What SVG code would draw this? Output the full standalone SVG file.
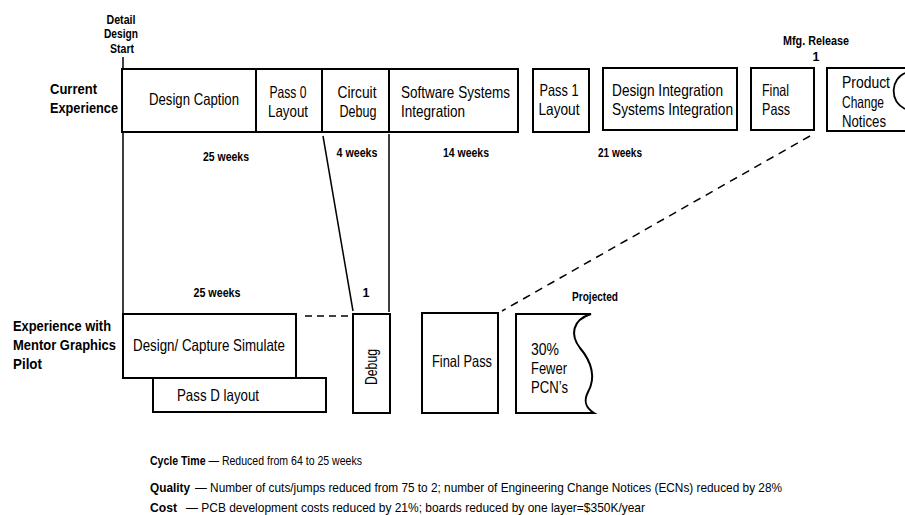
<svg xmlns="http://www.w3.org/2000/svg" width="905" height="515" viewBox="0 0 905 515">
<style>
.box{fill:#fff;stroke:#000;stroke-width:2}
.ln{fill:none;stroke:#000;stroke-width:1.5}
.dash{fill:none;stroke:#000;stroke-width:1.5;stroke-dasharray:8 6}
.t{font-family:"Liberation Sans Narrow","Liberation Sans",Arial,sans-serif;font-size:16.5px;fill:#000}
.b{font-family:"Liberation Sans Narrow","Liberation Sans",Arial,sans-serif;font-weight:bold;fill:#000}
.lbl{font-size:15.5px}
.sm{font-size:12.5px}
.wk{font-size:12.5px}
.ft{font-family:"Liberation Sans Narrow","Liberation Sans",Arial,sans-serif;font-size:13.5px;fill:#000}
.fb{font-weight:bold}
</style>
<rect width="905" height="515" fill="#fff"/>

<g id="labels">
<text class="b sm" text-anchor="middle" x="121" y="24" textLength="29" lengthAdjust="spacingAndGlyphs">Detail</text>
<text class="b sm" text-anchor="middle" x="121" y="38" textLength="34" lengthAdjust="spacingAndGlyphs">Design</text>
<text class="b sm" text-anchor="middle" x="122" y="53" textLength="24" lengthAdjust="spacingAndGlyphs">Start</text>
<text class="b lbl" x="50" y="94" textLength="47" lengthAdjust="spacingAndGlyphs">Current</text>
<text class="b lbl" x="50" y="113" textLength="68" lengthAdjust="spacingAndGlyphs">Experience</text>
<text class="b lbl" x="13" y="331" textLength="98" lengthAdjust="spacingAndGlyphs">Experience with</text>
<text class="b lbl" x="13" y="350" textLength="103" lengthAdjust="spacingAndGlyphs">Mentor Graphics</text>
<text class="b lbl" x="13" y="369" textLength="29" lengthAdjust="spacingAndGlyphs">Pilot</text>
<text class="b sm" text-anchor="middle" x="816" y="45" textLength="66" lengthAdjust="spacingAndGlyphs">Mfg. Release</text>
<text class="b sm" text-anchor="middle" x="816" y="61">1</text>
<text class="b wk" text-anchor="middle" x="226" y="161" textLength="46" lengthAdjust="spacingAndGlyphs">25 weeks</text>
<text class="b wk" text-anchor="middle" x="357" y="157" textLength="41" lengthAdjust="spacingAndGlyphs">4 weeks</text>
<text class="b wk" text-anchor="middle" x="466" y="157" textLength="46" lengthAdjust="spacingAndGlyphs">14 weeks</text>
<text class="b wk" text-anchor="middle" x="620" y="157" textLength="44" lengthAdjust="spacingAndGlyphs">21 weeks</text>
<text class="b wk" text-anchor="middle" x="217" y="297" textLength="47" lengthAdjust="spacingAndGlyphs">25 weeks</text>
<text class="b wk" text-anchor="middle" x="366" y="297">1</text>
<text class="b sm" text-anchor="middle" x="595" y="301" textLength="46" lengthAdjust="spacingAndGlyphs">Projected</text>
</g>

<g id="connectors">
<line class="ln" x1="123" y1="57" x2="123" y2="314"/>
<line class="ln" x1="323" y1="136" x2="353" y2="311"/>
<line class="ln" x1="389" y1="134" x2="389" y2="312"/>
<line class="dash" x1="810" y1="136" x2="502" y2="311"/>
<line class="dash" x1="305" y1="316" x2="352" y2="316" style="stroke-dasharray:7 5"/>
</g>

<g id="current-bar">
<rect class="box" x="122" y="69" width="396" height="63"/>
<line class="ln" x1="256" y1="69" x2="256" y2="132" style="stroke-width:2"/>
<line class="ln" x1="322" y1="69" x2="322" y2="132" style="stroke-width:2"/>
<line class="ln" x1="389" y1="69" x2="389" y2="132" style="stroke-width:2"/>
</g>
<g id="design-caption">
<text class="t" text-anchor="middle" x="194" y="105" textLength="90" lengthAdjust="spacingAndGlyphs">Design Caption</text>
</g>
<g id="pass0-layout">
<text class="t" text-anchor="middle" x="288" y="98" textLength="37" lengthAdjust="spacingAndGlyphs">Pass 0</text>
<text class="t" text-anchor="middle" x="288" y="117" textLength="40" lengthAdjust="spacingAndGlyphs">Layout</text>
</g>
<g id="circuit-debug">
<text class="t" text-anchor="middle" x="357" y="98" textLength="39" lengthAdjust="spacingAndGlyphs">Circuit</text>
<text class="t" text-anchor="middle" x="358" y="117" textLength="37" lengthAdjust="spacingAndGlyphs">Debug</text>
</g>
<g id="software-systems-integration">
<text class="t" x="401" y="98" textLength="109" lengthAdjust="spacingAndGlyphs">Software Systems</text>
<text class="t" x="401" y="117" textLength="64" lengthAdjust="spacingAndGlyphs">Integration</text>
</g>
<g id="pass1-layout">
<rect class="box" x="533" y="69" width="56" height="63"/>
<text class="t" text-anchor="middle" x="559" y="96" textLength="39" lengthAdjust="spacingAndGlyphs">Pass 1</text>
<text class="t" text-anchor="middle" x="559" y="115" textLength="41" lengthAdjust="spacingAndGlyphs">Layout</text>
</g>
<g id="design-integration">
<rect class="box" x="603" y="68" width="134" height="62"/>
<text class="t" x="612" y="96" textLength="111" lengthAdjust="spacingAndGlyphs">Design Integration</text>
<text class="t" x="612" y="115" textLength="121" lengthAdjust="spacingAndGlyphs">Systems Integration</text>
</g>
<g id="final-pass-top">
<rect class="box" x="751" y="68" width="63" height="62"/>
<text class="t" x="762" y="96" textLength="27" lengthAdjust="spacingAndGlyphs">Final</text>
<text class="t" x="762" y="115" textLength="28" lengthAdjust="spacingAndGlyphs">Pass</text>
</g>
<g id="product-change-notices">
<rect class="box" x="827" y="68" width="82" height="63"/>
<path class="ln" d="M905,73 C892,78 888,100 905,109" style="stroke-width:1.8"/>
<text class="t" x="842" y="88" textLength="48" lengthAdjust="spacingAndGlyphs">Product</text>
<text class="t" x="842" y="108" textLength="42" lengthAdjust="spacingAndGlyphs">Change</text>
<text class="t" x="842" y="127" textLength="44" lengthAdjust="spacingAndGlyphs">Notices</text>
</g>

<g id="pass-d-layout">
<rect class="box" x="153" y="378" width="173" height="34"/>
<text class="t" text-anchor="middle" x="218" y="401" textLength="82" lengthAdjust="spacingAndGlyphs">Pass D layout</text>
</g>
<g id="design-capture-simulate">
<rect class="box" x="123" y="314" width="173" height="64"/>
<text class="t" text-anchor="middle" x="209" y="351" textLength="152" lengthAdjust="spacingAndGlyphs">Design/ Capture Simulate</text>
</g>
<g id="debug">
<rect class="box" x="353" y="314" width="37" height="99"/>
<text class="t" text-anchor="middle" transform="translate(377,367) rotate(-90)" textLength="36" lengthAdjust="spacingAndGlyphs">Debug</text>
</g>
<g id="final-pass">
<rect class="box" x="422" y="313" width="76" height="100"/>
<text class="t" text-anchor="middle" x="462" y="367" textLength="60" lengthAdjust="spacingAndGlyphs">Final Pass</text>
</g>
<g id="fewer-pcns">
<path class="box" d="M516,314 H591 C572,320 570,335 580,348 C592,362 596,378 588,392 C583,402 586,408 594,413 H516 Z"/>
<text class="t" x="531" y="355" textLength="28" lengthAdjust="spacingAndGlyphs">30%</text>
<text class="t" x="531" y="374" textLength="36" lengthAdjust="spacingAndGlyphs">Fewer</text>
<text class="t" x="531" y="393" textLength="37" lengthAdjust="spacingAndGlyphs">PCN’s</text>
</g>

<g id="footer">
<text class="ft" x="150" y="465" textLength="212" lengthAdjust="spacingAndGlyphs"><tspan class="fb">Cycle Time</tspan> — Reduced from 64 to 25 weeks</text>
<text class="ft fb" x="150" y="492" textLength="40" lengthAdjust="spacingAndGlyphs">Quality</text>
<text class="ft" x="195" y="492" textLength="587" lengthAdjust="spacingAndGlyphs">— Number of cuts/jumps reduced from 75 to 2; number of Engineering Change Notices (ECNs) reduced by 28%</text>
<text class="ft fb" x="150" y="512" textLength="27" lengthAdjust="spacingAndGlyphs">Cost</text>
<text class="ft" x="186" y="512" textLength="459" lengthAdjust="spacingAndGlyphs">— PCB development costs reduced by 21%; boards reduced by one layer=$350K/year</text>
</g>
</svg>
